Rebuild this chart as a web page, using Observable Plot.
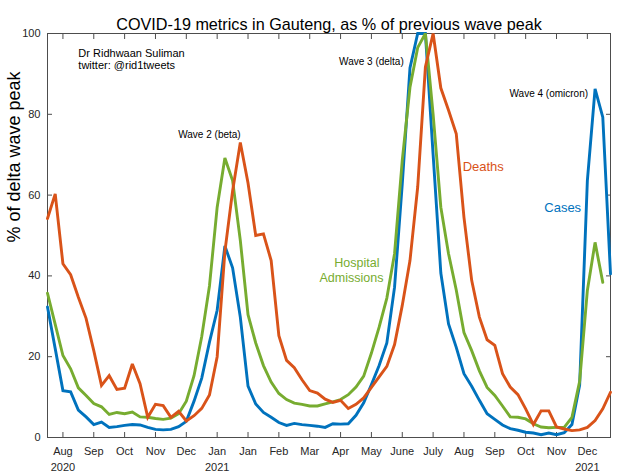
<!DOCTYPE html>
<html>
<head>
<meta charset="utf-8">
<script src="https://cdn.jsdelivr.net/npm/d3@7"></script>
<script src="https://cdn.jsdelivr.net/npm/@observablehq/plot@0.6"></script>
<style>
  html, body { margin: 0; padding: 0; background: #fff; }
  #chart svg { display: block; }
</style>
</head>
<body>
<div id="chart"></div>
<script>
// Weekly data, week index 0 = mid-July 2020
const cases = [32.3, 22, 11.6, 11.3, 6.8, 5.1, 3.2, 3.8, 2.5, 2.7, 3.0, 3.2, 3.1, 2.5, 2.0, 1.9, 2.0, 2.7, 4.0, 9,
  14.7, 23.6, 31.5, 47.4, 42, 29.8, 12.7, 8.3, 6.2, 5.0, 3.7, 3.0, 3.5, 3.2, 3.0, 2.8, 2.5, 3.4, 3.3, 3.4,
  5.5, 8.6, 13.1, 17.8, 23.4, 37.2, 62.8, 91.5, 100, 100, 70, 40.7, 28.1, 22.3, 15.8, 12.7, 9.2, 5.9, 4.5, 3.1,
  2.2, 1.8, 1.3, 1.1, 0.7, 1.1, 0.7, 1.2, 3.2, 13, 63.6, 86.3, 79.3, 40.5];
const admissions = [35.7, 28, 20.3, 17, 12.3, 10.4, 8.4, 7.6, 5.7, 6.2, 5.9, 6.3, 5.1, 5.0, 4.7, 4.5, 4.8, 5.9, 9, 15.3,
  25, 37.5, 57, 69.2, 63.6, 48.8, 30.4, 23.4, 17.8, 13.7, 10.9, 9.4, 8.5, 8.2, 7.8, 7.8, 8.3, 8.8, 9.4, 10.6,
  12.5, 15.2, 20.9, 27.3, 34.5, 45.5, 68.6, 86.7, 96.5, 100, 80, 57, 45.5, 36.5, 26, 21.5, 16.5, 12.4, 10.4, 7.8,
  5.1, 5.0, 4.6, 3.4, 2.6, 2.4, 2.5, 2.5, 5.0, 13.9, 36.4, 48.3, 38.4];
const deaths = [54.2, 60.3, 43, 40.3, 34.7, 29.5, 21.5, 12.9, 15.3, 11.9, 12.2, 18.2, 13.3, 5.0, 8.2, 7.9, 5.0, 6.5, 4.1, 5.4,
  7.2, 10.5, 20, 46, 61, 73, 63, 50, 50.4, 43.8, 25.2, 19.1, 17.3, 14.3, 11.6, 11, 9.5, 8.7, 9.2, 7.2,
  8.2, 9.8, 12.4, 15, 17.6, 23, 32.7, 43.8, 62, 91.7, 100, 86.5, 81, 75.2, 54.5, 38.9, 29.8, 24.2, 22.8, 15.8,
  12.5, 10.6, 7.1, 3.2, 6.6, 6.6, 2.6, 2.1, 1.7, 1.9, 2.5, 4.2, 7.1, 11.2];

const seriesNames = ["Cases", "Hospital Admissions", "Deaths"];
const seriesColors = ["#0072BD", "#77AC30", "#D95319"];

const xTickWeeks = [2, 6, 10, 14, 18, 22, 26, 30, 34, 38, 42, 46, 50, 54, 58, 62, 66, 70];
const xTickLabels = ["Aug\n2020", "Sep", "Oct", "Nov", "Dec", "Jan\n2021", "Jan", "Feb", "Mar", "Apr",
  "May", "June", "July", "Aug", "Sep", "Oct", "Nov", "Dec\n2021"];
const yTicks = [0, 20, 40, 60, 80, 100];

const rows = [];
[cases, admissions, deaths].forEach((arr, s) => {
  arr.forEach((v, i) => rows.push({week: i, value: v, series: seriesNames[s]}));
});

const labelOf = new Map(xTickWeeks.map((w, i) => [w, xTickLabels[i]]));
const font = "'Liberation Sans', Arial, Helvetica, sans-serif";
const axisColor = "#4d4d4d";

const chart = Plot.plot({
  width: 630,
  height: 472,
  marginLeft: 47,
  marginRight: 20,
  marginTop: 33,
  marginBottom: 35,
  style: {fontFamily: font, fontSize: "11px", background: "#fff", color: "#262626"},
  x: {domain: [0, 73], label: null},
  y: {domain: [0, 100], label: null},
  color: {domain: seriesNames, range: seriesColors},
  marks: [
    Plot.axisX({anchor: "bottom", ticks: xTickWeeks, tickFormat: d => labelOf.get(d), tickSize: -5, tickPadding: 12, lineHeight: 1.4, stroke: axisColor, fill: "#262626", label: null}),
    Plot.axisX({anchor: "top", ticks: xTickWeeks, tickFormat: () => "", tickSize: -5, stroke: axisColor, label: null}),
    Plot.axisY({anchor: "left", ticks: yTicks, tickSize: -5, tickPadding: 12, stroke: axisColor, fill: "#262626", label: null}),
    Plot.axisY({anchor: "right", ticks: yTicks, tickFormat: () => "", tickSize: -5, stroke: axisColor, label: null}),
    Plot.frame({stroke: axisColor, strokeWidth: 1}),
    Plot.line(rows, {x: "week", y: "value", z: "series", stroke: "series", strokeWidth: 2.9, strokeLinejoin: "miter", strokeMiterlimit: 3}),
    Plot.text(["COVID-19 metrics in Gauteng, as % of previous wave peak"], {frameAnchor: "top", dy: -15, fontSize: 16.2, fill: "#000"}),
    Plot.text(["% of delta wave peak"], {frameAnchor: "left", rotate: -90, dx: -33, dy: 7, fontSize: 18, fill: "#000"}),
    Plot.text(["Dr Ridhwaan Suliman", "twitter: @rid1tweets"], {x: [4, 4], y: [95, 92.1], textAnchor: "start", fontSize: 11, fill: "#000"}),
    Plot.text(["Wave 2 (beta)", "Wave 3 (delta)", "Wave 4 (omicron)"], {x: [21, 42, 65], y: [75, 93.1, 85.1], fontSize: 10, fill: "#000"}),
    Plot.text(["Deaths"], {x: [56.5], y: [67.1], fontSize: 13, fill: seriesColors[2]}),
    Plot.text(["Cases"], {x: [66.8], y: [56.9], fontSize: 13, fill: seriesColors[0]}),
    Plot.text(["Hospital", "Admissions"], {x: [43.05, 43.56], y: [43.3, 39.6], textAnchor: "end", fontSize: 12.5, fill: seriesColors[1]})
  ]
});
document.getElementById("chart").append(chart);
</script>
</body>
</html>
